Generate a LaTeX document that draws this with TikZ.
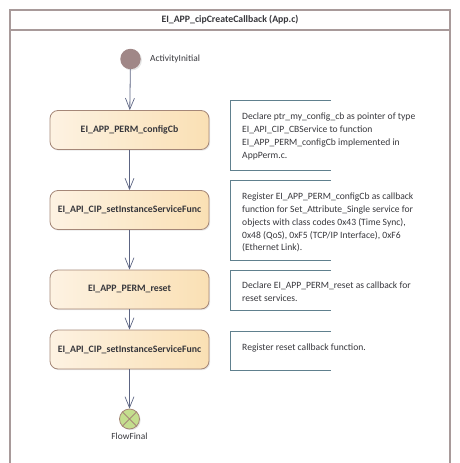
\documentclass[tikz,border=0pt]{standalone}
\usepackage{fontspec}
\setmainfont{Carlito}
\usetikzlibrary{arrows.meta,shadows}
\definecolor{framec}{RGB}{168,154,154}
\definecolor{flowc}{RGB}{92,100,130}
\definecolor{actborder}{RGB}{165,135,120}
\definecolor{actleft}{RGB}{253,242,226}
\definecolor{actright}{RGB}{250,224,180}
\definecolor{notec}{RGB}{96,128,142}
\definecolor{initc}{RGB}{160,135,135}
\definecolor{finalc}{RGB}{196,222,142}
\definecolor{txt}{RGB}{55,55,60}
\tikzset{
  actbox/.style={draw=actborder, line width=0.8pt, rounded corners=8pt,
    left color=actleft, right color=actright, minimum width=159pt, minimum height=39pt,
    font=\fontsize{9.8}{11}\selectfont\bfseries, text=txt, inner sep=0pt,
    drop shadow={opacity=0.18, shadow xshift=1.2pt, shadow yshift=-1.2pt}},
  flow/.style={draw=flowc, line width=0.8pt, -{Straight Barb[length=11pt,width=9pt,line width=0.7pt]}},
  notetext/.style={anchor=north west, align=left, inner sep=0pt, text=txt,
    font=\fontsize{9.6}{12.9}\selectfont},
  notebr/.style={draw=notec, line width=0.9pt},
  smalllab/.style={font=\fontsize{9.4}{11}\selectfont, text=txt, inner sep=0pt}
}
\begin{document}
\begin{tikzpicture}[x=1pt,y=-1pt]
\useasboundingbox (0,0) rectangle (460,463);
% frame
\draw[framec, line width=1.8pt] (10,463) -- (10,10) -- (450,10) -- (450,463);
\draw[framec, line width=1.8pt] (10,30) -- (450,30);
\node[font=\fontsize{9.8}{11}\selectfont\bfseries, text=txt, inner sep=0pt] (title) at (230,20) {EI\_APP\_cipCreateCallback (App.c)};
% initial
\node[circle, fill=initc, minimum size=20.5pt, inner sep=0pt,
  drop shadow={opacity=0.2, shadow xshift=1.2pt, shadow yshift=-1.2pt}] (init) at (130.5,59) {};
\node[smalllab, anchor=west] (initlab) at (150,59) {ActivityInitial};
% actions
\node[actbox] (a1) at (129.5,130) {EI\_APP\_PERM\_configCb};
\node[actbox] (a2) at (129.5,210) {EI\_API\_CIP\_setInstanceServiceFunc};
\node[actbox] (a3) at (129.5,289.5) {EI\_APP\_PERM\_reset};
\node[actbox] (a4) at (129.5,349.5) {EI\_API\_CIP\_setInstanceServiceFunc};
% final
\node[circle, draw=actborder, line width=0.8pt, fill=finalc, minimum size=20pt, inner sep=0pt,
  drop shadow={opacity=0.2, shadow xshift=1.2pt, shadow yshift=-1.2pt}] (fin) at (129.5,419) {};
\draw[actborder, line width=0.8pt] (fin.north west) -- (fin.south east) (fin.north east) -- (fin.south west);
\node[smalllab] (finlab) at (129.5,436) {FlowFinal};
% flows
\draw[flow] (init) -- (a1);
\draw[flow] (a1) -- (a2);
\draw[flow] (a2) -- (a3);
\draw[flow] (a3) -- (a4);
\draw[flow] (a4) -- (fin);
% notes
\draw[notebr] (331,100) -- (230.5,100) -- (230.5,170) -- (331,170);
\node[notetext] (n1) at (242,112.5) {Declare ptr\_my\_config\_cb as pointer of type\\EI\_API\_CIP\_CBService to function\\EI\_APP\_PERM\_configCb implemented in\\AppPerm.c.};
\draw[notebr] (331,180) -- (230.5,180) -- (230.5,260) -- (331,260);
\node[notetext] (n2) at (242,192.5) {Register EI\_APP\_PERM\_configCb as callback\\function for Set\_Attribute\_Single service for\\objects with class codes 0x43 (Time Sync),\\0x48 (QoS), 0xF5 (TCP/IP Interface), 0xF6\\(Ethernet Link).};
\draw[notebr] (331,270) -- (230.5,270) -- (230.5,310) -- (331,310);
\node[notetext] (n3) at (242,281.5) {Declare EI\_APP\_PERM\_reset as callback for\\reset services.};
\draw[notebr] (331,331) -- (230.5,331) -- (230.5,370) -- (331,370);
\node[notetext] (n4) at (242,343.5) {Register reset callback function.};
\end{tikzpicture}
\end{document}
